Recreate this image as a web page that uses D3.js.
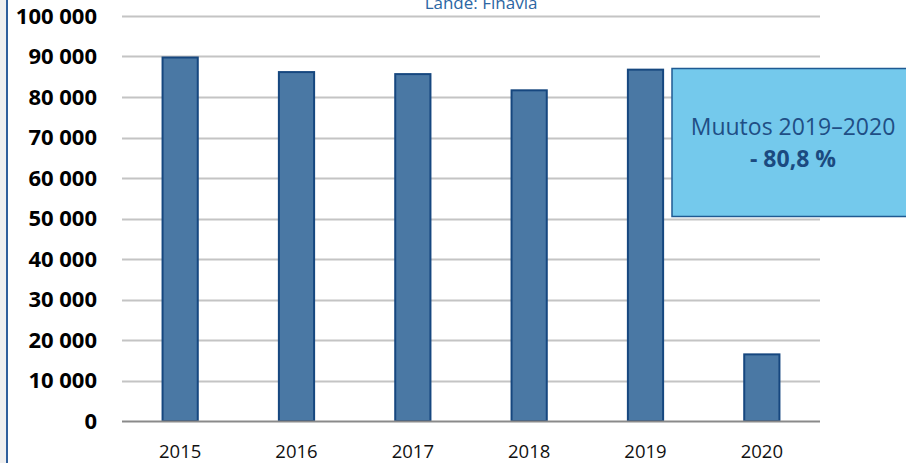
<!DOCTYPE html>
<html lang="fi">
<head>
    <meta charset="UTF-8">
    <title>Matkustajat 2015-2020</title>
    <script src="https://d3js.org/d3.v7.min.js"></script>
    <style>
        html, body {
            margin: 0;
            padding: 0;
            background: #fff;
        }
        #chart svg {
            display: block;
        }
        .ylab {
            font-family: 'Open Sans', sans-serif;
            font-weight: bold;
            font-size: 22px;
            fill: #000;
        }
        .xlab {
            font-family: 'Open Sans', sans-serif;
            font-size: 18.5px;
            fill: #111;
        }
    </style>
</head>
<body>
    <div id="chart"></div>
    <script>
        const width = 906;
        const height = 463;

        // data
        const years = ["2015", "2016", "2017", "2018", "2019", "2020"];
        const passengers = [90000, 86400, 85900, 81900, 87000, 16700];
        const yTicks = [0, 10000, 20000, 30000, 40000, 50000, 60000, 70000, 80000, 90000, 100000];
        const sourceText = "Lähde: Finavia";
        const noteLines = ["Muutos 2019–2020", "- 80,8 %"];

        const plot = { left: 122, right: 820, top: 16, bottom: 421 };

        const svg = d3.select("#chart")
            .append("svg")
            .attr("width", width)
            .attr("height", height);

        // gray strip and blue border on the left
        svg.append("rect")
            .attr("x", 0).attr("y", 0)
            .attr("width", 6).attr("height", height)
            .attr("fill", "#efefef");
        svg.append("line")
            .attr("x1", 7).attr("x2", 7)
            .attr("y1", 0).attr("y2", height)
            .attr("stroke", "#2f5f9c")
            .attr("stroke-width", 2);

        const x = d3.scaleBand()
            .domain(years)
            .range([plot.left, plot.right])
            .paddingInner(0.68)
            .paddingOuter(0.34);

        const y = d3.scaleLinear()
            .domain([0, 100000])
            .range([plot.bottom, plot.top]);

        const fmt = d => d3.format(",")(d).replace(/,/g, " ");

        // gridlines
        svg.append("g")
            .selectAll("line")
            .data(yTicks.filter(d => d > 0))
            .enter()
            .append("line")
            .attr("x1", plot.left)
            .attr("x2", plot.right)
            .attr("y1", d => Math.round(y(d)) + 0.5)
            .attr("y2", d => Math.round(y(d)) + 0.5)
            .attr("stroke", "#c4c4c4")
            .attr("stroke-width", 2);

        // y labels
        svg.append("g")
            .selectAll("text")
            .data(yTicks)
            .enter()
            .append("text")
            .attr("class", "ylab")
            .attr("x", 97)
            .attr("y", d => y(d))
            .attr("dy", "0.36em")
            .attr("text-anchor", "end")
            .text(fmt);

        // bars
        svg.append("g")
            .selectAll("rect")
            .data(passengers)
            .enter()
            .append("rect")
            .attr("x", (d, i) => x(years[i]) + 1)
            .attr("y", d => y(d) + 1)
            .attr("width", x.bandwidth() - 2)
            .attr("height", d => plot.bottom - y(d) - 1)
            .attr("fill", "#4a78a4")
            .attr("stroke", "#16477f")
            .attr("stroke-width", 2);

        // baseline
        svg.append("line")
            .attr("x1", plot.left)
            .attr("x2", plot.right)
            .attr("y1", plot.bottom + 0.5)
            .attr("y2", plot.bottom + 0.5)
            .attr("stroke", "#8a8a8a")
            .attr("stroke-width", 2);

        // x labels
        svg.append("g")
            .selectAll("text")
            .data(years)
            .enter()
            .append("text")
            .attr("class", "xlab")
            .attr("x", d => x(d) + x.bandwidth() / 2)
            .attr("y", 458)
            .attr("text-anchor", "middle")
            .text(d => d);

        // source text, partly cut at the top like in the original
        svg.append("text")
            .attr("x", 481)
            .attr("y", 9)
            .attr("text-anchor", "middle")
            .style("font-family", "'Open Sans', sans-serif")
            .style("font-size", "17px")
            .style("fill", "#2b66a3")
            .text(sourceText);

        // callout box
        svg.append("rect")
            .attr("x", 672)
            .attr("y", 68.5)
            .attr("width", 250)
            .attr("height", 148)
            .attr("fill", "#74c9ec")
            .attr("stroke", "#1f5a92")
            .attr("stroke-width", 1.5);

        svg.append("text")
            .attr("x", 793)
            .attr("y", 135)
            .attr("text-anchor", "middle")
            .style("font-family", "'Open Sans', sans-serif")
            .style("font-size", "23px")
            .style("fill", "#1f4e85")
            .text(noteLines[0]);

        svg.append("text")
            .attr("x", 793)
            .attr("y", 167)
            .attr("text-anchor", "middle")
            .style("font-family", "'Open Sans', sans-serif")
            .style("font-size", "23px")
            .style("font-weight", "bold")
            .style("fill", "#1b4a80")
            .text(noteLines[1]);
    </script>
</body>
</html>
